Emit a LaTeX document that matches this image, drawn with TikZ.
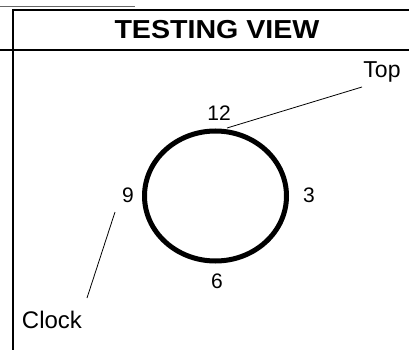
\documentclass[tikz,border=0pt]{standalone}
\usepackage{fontspec}
\setmainfont{Liberation Sans}
\begin{document}
\begin{tikzpicture}[x=1pt,y=-1pt,
  lbl/.style={font=\fontsize{21}{21}\selectfont, inner sep=0pt},
  frame/.style={line width=2pt, black},
  leader/.style={line width=0.8pt}]
\useasboundingbox (0,0) rectangle (409,350);
% frame
\draw[frame] (12,10) -- (409,10);
\draw[line width=0.6pt, black!60] (0,6) -- (135,6);
\draw[frame] (0,50) -- (409,50);
\draw[line width=2.5pt] (13,10) -- (13,350);
\node[inner sep=0pt, font=\bfseries\fontsize{26}{26}\selectfont, xscale=1.1] (title) at (217,30) {TESTING VIEW};
% clock
\draw[line width=5pt] (215.5,196) ellipse [x radius=71, y radius=65];
\node[lbl] (n12) at (219,113) {12};
\node[lbl] (n3) at (309,195) {3};
\node[lbl] (n9) at (128,195) {9};
\node[lbl] (n6) at (217,281) {6};
\node[inner sep=0pt, font=\fontsize{23}{23}\selectfont] (top) at (382,72) {Top};
\node[inner sep=0pt, font=\fontsize{24}{24}\selectfont] (clock) at (52,320) {Clock};
\coordinate (topstart) at (362,87);
\coordinate (topend) at (227,128);
\coordinate (clockstart) at (87,298);
\coordinate (clockend) at (115,212);
\draw[leader] (topstart) -- (topend);
\draw[leader] (clockend) -- (clockstart);
\end{tikzpicture}
\end{document}
